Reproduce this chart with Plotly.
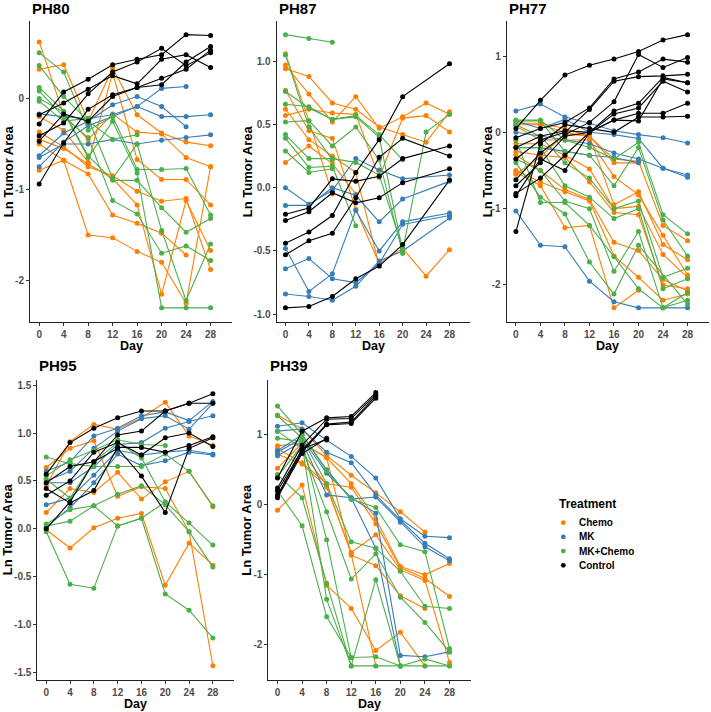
import plotly.graph_objects as go

N = None
DAYS = [0, 4, 8, 12, 16, 20, 24, 28]
TREATMENTS = ["Chemo", "MK", "MK+Chemo", "Control"]
COLORS = ["#FF7F00", "#377EB8", "#4DAF4A", "#000000"]

# ---------------- PH80 ----------------
PH80_CHEMO = [
    [0.32, 0.37, -0.25, 0.33, -0.18, -0.38, -0.48, -0.52],
    [0.62, -0.18, -0.45, -0.17, -0.37, -0.39, -0.65, -0.75],
    [-0.20, -0.35, -0.70, 0.28, -0.67, -0.89, -0.89, -1.17],
    [-0.37, -0.53, -0.75, -0.85, -1.02, -1.13, -1.10, -1.88],
    [-0.50, -0.68, -0.83, -1.28, -1.37, -1.48, -1.72, N],
    [-0.79, -0.68, -1.50, -1.53, -1.68, -1.80, -2.25, -0.75],
    [-0.45, -0.55, -0.72, -0.88, -1.17, -2.15, -1.12, -1.67],
]
PH80_MK = [
    [-0.17, -0.20, -0.22, -0.18, -0.09, 0.11, 0.13, N],
    [-0.63, -0.38, -0.25, -0.07, 0.02, -0.09, -0.31, N],
    [-0.75, -0.48, -0.30, -0.20, -0.09, -0.20, -0.20, -0.18],
    [-0.65, -0.50, -0.50, -0.45, -0.50, -0.46, -0.43, -0.40],
]
PH80_MKCHEMO = [
    [0.50, 0.29, -0.35, -0.20, -0.78, -0.78, -0.77, -1.28],
    [0.36, 0.02, -0.25, -0.45, -0.40, N, N, N],
    [0.12, -0.14, -0.63, -0.90, -0.90, -1.20, -1.47, -1.32],
    [0.08, -0.20, -0.43, -1.12, -1.27, -1.70, -1.62, -1.78],
    [0.00, -0.15, -0.65, -0.25, -0.82, -2.30, -2.30, -2.30],
    [-0.03, -0.25, -0.22, -0.88, -0.50, -1.45, -2.22, -1.60],
]
PH80_CONTROL = [
    [-0.94, -0.49, -0.12, 0.04, 0.12, 0.15, 0.40, 0.57],
    [-0.41, -0.27, 0.05, 0.29, 0.40, 0.55, 0.36, 0.50],
    [-0.28, 0.07, 0.21, 0.37, 0.43, 0.48, 0.70, 0.69],
    [-0.18, -0.05, 0.10, 0.25, 0.16, 0.43, 0.48, 0.34],
    [-0.47, -0.17, -0.25, 0.02, 0.12, 0.22, 0.32, 0.53],
]

# ---------------- PH87 ----------------
PH87_CHEMO = [
    [0.94, 0.88, 0.67, 0.62, 0.48, 0.42, 0.36, 0.60],
    [0.97, 0.74, 0.52, 0.72, 0.47, 0.56, 0.67, 0.58],
    [0.57, 0.62, 0.59, 0.58, 0.08, 0.55, 0.57, 0.44],
    [0.77, 0.45, 0.39, -0.17, -0.60, -0.48, -0.70, -0.49],
    [0.62, 0.38, 0.25, 0.12, -0.62, N, N, N],
    [0.20, 0.33, 0.19, -0.05, N, N, N, N],
    [1.06, 0.53, -0.05, N, N, N, N, N],
]
PH87_MK = [
    [0.00, -0.13, -0.02, 0.23, 0.14, 0.07, N, 0.10],
    [-0.14, -0.14, 0.00, -0.06, -0.27, -0.09, N, 0.05],
    [-0.48, -0.82, -0.68, -0.18, -0.50, -0.27, N, -0.20],
    [-0.64, -0.56, -0.72, -0.75, -0.60, -0.29, N, -0.22],
    [-0.84, -0.86, -0.89, -0.78, -0.58, -0.50, N, -0.24],
]
PH87_MKCHEMO = [
    [1.21, 1.18, 1.15, N, N, N, N, N],
    [0.76, 0.63, 0.54, 0.57, 0.42, 0.22, N, N],
    [0.66, 0.64, 0.54, 0.56, 0.40, -0.50, 0.44, 0.58],
    [0.52, 0.53, 0.33, 0.48, 0.22, -0.52, N, N],
    [0.42, 0.23, 0.23, 0.20, 0.10, -0.48, N, N],
    [0.39, 0.16, 0.17, -0.30, N, N, N, N],
    [0.29, 0.12, 0.15, N, N, N, N, N],
    [1.05, 0.48, 0.22, N, N, N, N, N],
]
PH87_CONTROL = [
    [-0.44, -0.35, -0.22, 0.12, 0.38, 0.72, N, 0.98],
    [-0.21, -0.16, 0.07, 0.05, 0.09, 0.23, N, 0.33],
    [-0.26, -0.19, -0.04, -0.12, -0.08, 0.04, N, 0.15],
    [-0.53, -0.42, -0.36, -0.08, 0.24, 0.39, N, 0.25],
    [-0.95, -0.94, -0.86, -0.72, -0.62, -0.45, N, 0.06],
]

# ---------------- PH77 ----------------
PH77_CHEMO = [
    [0.12, 0.12, 0.05, -0.05, -0.35, -0.38, -1.22, -1.42],
    [0.10, 0.10, 0.00, -0.05, -0.95, -0.78, -1.47, -1.67],
    [0.08, -0.10, -0.10, -0.10, -0.58, -0.82, -1.35, -1.87],
    [-0.15, -0.15, -0.30, -0.48, -1.00, -0.97, -1.60, -1.90],
    [-0.25, -0.30, -0.33, -0.65, -1.05, -1.08, -2.00, -2.05],
    [-0.30, -0.50, -0.75, -0.88, -1.44, -1.55, -1.93, -2.08],
    [-0.50, -0.65, -0.78, -0.90, -1.62, -1.90, -2.20, -2.12],
    [-0.52, -0.70, -1.25, -1.22, -2.30, -2.07, N, N],
    [-0.55, -0.32, -0.02, -0.05, -0.40, -0.40, N, N],
]
PH77_MK = [
    [0.28, 0.37, 0.20, 0.12, 0.02, -0.03, -0.07, -0.14],
    [0.15, 0.05, 0.17, 0.00, -0.03, -0.08, -0.47, -0.56],
    [0.00, -0.05, -0.10, -0.15, -0.27, -0.35, -0.47, -0.59],
    [-0.20, -0.20, -0.25, -0.30, -0.33, -0.40, N, N],
    [-1.03, -1.48, -1.50, -1.95, -2.22, -2.30, -2.30, -2.30],
]
PH77_MKCHEMO = [
    [0.16, 0.16, -0.10, -0.20, -0.35, -0.13, -1.08, -1.33],
    [0.15, 0.15, -0.25, -0.30, -0.70, -0.20, -1.15, -1.62],
    [0.10, -0.05, -0.40, -0.60, -1.00, -0.90, -1.90, -1.78],
    [-0.20, -0.20, -0.70, -0.85, -1.13, -1.00, -2.05, -1.92],
    [-0.35, -0.50, -0.90, -1.00, -1.82, -1.30, -2.30, -2.20],
    [-0.40, -0.85, -1.07, -1.70, -2.12, -1.48, N, -2.25],
    [-0.10, -0.92, -0.92, -1.22, -1.63, -2.05, -2.30, -2.10],
]
PH77_CONTROL = [
    [0.05, 0.42, 0.75, 0.88, 0.96, 1.06, 1.21, 1.28],
    [-0.07, 0.05, 0.13, 0.32, 0.70, 0.79, 0.96, 0.92],
    [-0.35, -0.10, 0.00, 0.30, 0.67, 0.73, 0.74, 0.76],
    [-0.62, -0.27, -0.03, 0.13, 0.40, 1.02, 0.85, 0.98],
    [-0.70, -0.40, -0.05, 0.00, 0.28, 0.38, 0.72, 0.65],
    [-0.80, -0.60, -0.30, 0.00, 0.24, 0.32, 0.67, 0.53],
    [-0.83, -0.35, -0.50, 0.00, 0.16, 0.25, 0.25, 0.38],
    [-1.30, -0.15, 0.10, 0.05, 0.00, 0.20, 0.20, 0.21],
    [-0.20, -0.05, 0.02, 0.00, 0.16, 0.15, 0.70, 0.65],
]

# ---------------- PH95 ----------------
PH95_CHEMO = [
    [0.45, 0.91, 1.09, 1.04, 1.16, 1.32, 0.97, 0.87],
    [0.64, 0.84, 0.92, 0.34, 0.44, 0.42, -0.03, -1.43],
    [0.17, 0.42, 0.38, 0.59, 0.31, 0.49, 0.60, 0.23],
    [-0.01, -0.20, 0.01, 0.11, 0.16, -0.59, -0.15, -0.38],
]
PH95_MK = [
    [0.60, 0.70, 0.97, 1.05, 1.18, 1.22, 1.13, 1.33],
    [0.50, 0.60, 0.84, 1.02, 1.15, 1.18, 1.04, 1.31],
    [0.48, 0.48, 0.65, 0.88, 0.90, 1.05, 1.12, 1.18],
    [0.25, 0.32, 0.56, 0.82, 0.77, 0.80, 0.82, 0.78],
    [0.02, 0.22, 0.48, 0.78, 0.66, 0.71, 0.80, 0.77],
]
PH95_MKCHEMO = [
    [0.75, 0.68, 0.65, 0.65, 0.65, 0.78, 0.60, 0.24],
    [0.55, 0.72, 0.82, 0.93, 0.88, 0.87, N, N],
    [0.52, 0.32, 0.70, 0.90, 0.74, 0.28, 0.06, -0.17],
    [0.05, 0.20, 0.24, 0.36, 0.45, 0.25, -0.03, -0.40],
    [0.03, 0.08, 0.24, 0.03, 0.11, 0.28, N, N],
    [-0.03, -0.58, -0.62, 0.03, 0.11, -0.68, -0.85, -1.14],
]
PH95_CONTROL = [
    [0.57, 0.90, 1.05, 1.16, 1.23, 1.23, 1.31, 1.31],
    [0.48, 0.65, 0.70, 0.98, 1.02, 1.23, 1.31, 1.41],
    [0.35, 0.50, 0.80, 0.90, 0.77, 0.95, 1.00, 0.86],
    [0.42, 0.27, 0.40, 0.85, 0.85, 0.80, 0.87, 0.96],
    [0.00, 0.28, 0.70, 0.84, 0.55, 0.17, 0.84, 0.95],
]

# ---------------- PH39 ----------------
PH39_CHEMO = [
    [1.28, 1.08, 0.70, 0.42, 0.17, -0.10, -0.39, N],
    [0.84, 0.88, 0.67, 0.30, -0.20, -0.88, -1.00, -0.84],
    [0.80, 0.60, 0.30, 0.25, -0.27, -0.90, -1.05, -1.31],
    [0.72, 0.58, 0.25, -0.68, -0.43, -0.93, -1.08, -2.25],
    [0.52, 0.88, 0.67, -0.72, -0.87, -1.30, -1.48, N],
    [-0.08, 0.28, -1.15, -1.48, -2.08, -1.82, -2.30, N],
    [N, 0.75, 0.28, -0.70, -2.30, N, N, N],
]
PH39_MK = [
    [1.12, 1.17, 0.92, 0.69, 0.38, -0.20, -0.45, -0.47],
    [1.05, 1.08, 0.75, 0.60, 0.14, -0.22, -0.55, -0.77],
    [0.77, 1.00, 0.50, 0.08, 0.11, -0.25, -0.60, -0.80],
    [0.75, 0.95, 0.45, 0.10, -0.12, -2.15, -2.17, -2.10],
    [0.70, 0.90, 0.14, 0.10, -0.62, -2.30, N, N],
]
PH39_MKCHEMO = [
    [1.41, 1.00, 0.48, 0.08, -0.04, -0.57, -0.67, -2.05],
    [1.27, 0.95, 0.30, -0.53, -0.62, -0.95, -1.45, -1.48],
    [1.05, 0.80, -0.10, -1.06, -0.70, -1.32, -1.68, -2.10],
    [0.95, 0.90, -0.50, -2.18, -2.17, -2.30, -2.20, -2.30],
    [0.43, 0.10, -1.12, -2.30, -1.07, -2.30, -2.30, -2.30],
    [0.40, 0.85, -1.35, -2.30, -2.30, -2.30, N, N],
    [0.20, -0.30, -1.60, -2.18, N, N, N, N],
]
PH39_CONTROL = [
    [0.38, 1.05, 1.24, 1.26, 1.60, N, N, N],
    [0.24, 0.85, 1.22, 1.23, 1.57, N, N, N],
    [0.20, 0.78, 1.15, 1.18, 1.55, N, N, N],
    [0.14, 0.75, 1.14, 1.16, 1.52, N, N, N],
    [0.10, 0.73, 0.95, N, N, N, N, N],
    [0.12, 0.80, 0.93, N, N, N, N, N],
]

PANEL_NAMES = ["PH80", "PH87", "PH77", "PH95", "PH39"]
PANEL_DATA = [
    [PH80_CHEMO, PH80_MK, PH80_MKCHEMO, PH80_CONTROL],
    [PH87_CHEMO, PH87_MK, PH87_MKCHEMO, PH87_CONTROL],
    [PH77_CHEMO, PH77_MK, PH77_MKCHEMO, PH77_CONTROL],
    [PH95_CHEMO, PH95_MK, PH95_MKCHEMO, PH95_CONTROL],
    [PH39_CHEMO, PH39_MK, PH39_MKCHEMO, PH39_CONTROL],
]
Y_TICKS = [[-2, -1, 0], [-1.0, -0.5, 0.0, 0.5, 1.0], [-2, -1, 0, 1],
           [-1.5, -1.0, -0.5, 0.0, 0.5, 1.0, 1.5], [-2, -1, 0, 1]]
Y_DECIMALS = [0, 1, 0, 1, 0]

# ---- layout geometry (pixels) ----
W, H = 711, 712
PX_X = [(30, 232), (276.7, 470), (506.7, 709), (37.3, 233.7), (268.3, 471)]
PX_Y = [(21, 321.5), (21, 321.5), (21, 321.5), (380, 679.5), (380, 679.5)]
Y_RANGES = [(-2.45, 0.85), (-1.058, 1.318), (-2.479, 1.459), (-1.5735, 1.5535), (-2.494, 1.78)]
X_RANGE = (-1.5, 31.5)
YTITLE_X = [8, 247, 487, 7.5, 247]

FONT = "Liberation Sans, Arial, sans-serif"

fig = go.Figure()
layout = {}
annotations = []
shapes = []

for i, (pname, pdata) in enumerate(zip(PANEL_NAMES, PANEL_DATA)):
    suf = "" if i == 0 else str(i + 1)
    for tname, color, series_list in zip(TREATMENTS, COLORS, pdata):
        for s in series_list:
            fig.add_trace(go.Scatter(
                x=DAYS, y=s, mode="lines+markers", name=tname,
                line=dict(color=color, width=1.1),
                marker=dict(color=color, size=5),
                connectgaps=True, showlegend=False, hoverinfo="skip",
                xaxis="x" + suf, yaxis="y" + suf))
    x0, x1 = PX_X[i]
    yt, yb = PX_Y[i]
    tick_font = dict(family=FONT, size=10, color="#4d4d4d", weight="bold")
    layout["xaxis" + suf] = dict(
        domain=[x0 / W, x1 / W], anchor="y" + suf, range=list(X_RANGE),
        tickvals=DAYS, ticktext=[str(d) for d in DAYS],
        showline=True, linecolor="#222", linewidth=1, ticks="outside",
        ticklen=3, tickcolor="#333", tickwidth=1, showgrid=False, zeroline=False,
        tickfont=tick_font)
    yticks = Y_TICKS[i]
    ytext = [f"{v:.1f}" if Y_DECIMALS[i] else str(int(v)) for v in yticks]
    layout["yaxis" + suf] = dict(
        domain=[1 - yb / H, 1 - yt / H], anchor="x" + suf, range=list(Y_RANGES[i]),
        tickvals=yticks, ticktext=ytext,
        showline=True, linecolor="#222", linewidth=1, ticks="outside",
        ticklen=3, tickcolor="#333", tickwidth=1, showgrid=False, zeroline=False,
        tickfont=tick_font)
    # panel title
    annotations.append(dict(
        text=f"<b>{pname}</b>", x=x0 / W, y=1 - (9 if i < 3 else 365.5) / H,
        xref="paper", yref="paper", xanchor="left", yanchor="middle",
        showarrow=False, font=dict(family=FONT, size=15, color="#000")))
    # y title
    annotations.append(dict(
        text="<b>Ln Tumor Area</b>", x=YTITLE_X[i] / W, y=1 - ((yt + yb) / 2) / H,
        xref="paper", yref="paper", xanchor="center", yanchor="middle",
        textangle=-90, showarrow=False, font=dict(family=FONT, size=13, color="#000")))
    # x title
    annotations.append(dict(
        text="<b>Day</b>", x=((x0 + x1) / 2) / W, y=1 - (yb + 24.5) / H,
        xref="paper", yref="paper", xanchor="center", yanchor="middle",
        showarrow=False, font=dict(family=FONT, size=12.5, color="#000")))

# ---- legend (ggplot-style key: title + dot + label) ----
LEG_TITLE_XY = (556.7, 504)
LEG_DOT_X, LEG_TEXT_X = 563.3, 577
LEG_ROW_Y = [522.7, 536.9, 551.1, 565.3]
annotations.append(dict(
    text="<b>Treatment</b>", x=LEG_TITLE_XY[0] / W, y=1 - LEG_TITLE_XY[1] / H,
    xref="paper", yref="paper", xanchor="left", yanchor="middle",
    showarrow=False, font=dict(family=FONT, size=12, color="#000")))
for tname, color, ry in zip(TREATMENTS, COLORS, LEG_ROW_Y):
    r = 2.4
    shapes.append(dict(type="circle", xref="paper", yref="paper",
                       x0=(LEG_DOT_X - r) / W, x1=(LEG_DOT_X + r) / W,
                       y0=1 - (ry + r) / H, y1=1 - (ry - r) / H,
                       fillcolor=color, line=dict(width=0)))
    annotations.append(dict(
        text=f"<b>{tname}</b>", x=LEG_TEXT_X / W, y=1 - ry / H,
        xref="paper", yref="paper", xanchor="left", yanchor="middle",
        showarrow=False, font=dict(family=FONT, size=10, color="#000")))

fig.update_layout(
    width=W, height=H, margin=dict(l=0, r=0, t=0, b=0),
    plot_bgcolor="rgba(0,0,0,0)", paper_bgcolor="white",
    font=dict(family=FONT, color="#000"),
    showlegend=False,
    annotations=annotations, shapes=shapes,
    **layout)

fig.write_html(
    "out.html",
    config={"displayModeBar": False},
    post_script="document.body.style.margin='0';document.body.style.overflow='hidden';")
